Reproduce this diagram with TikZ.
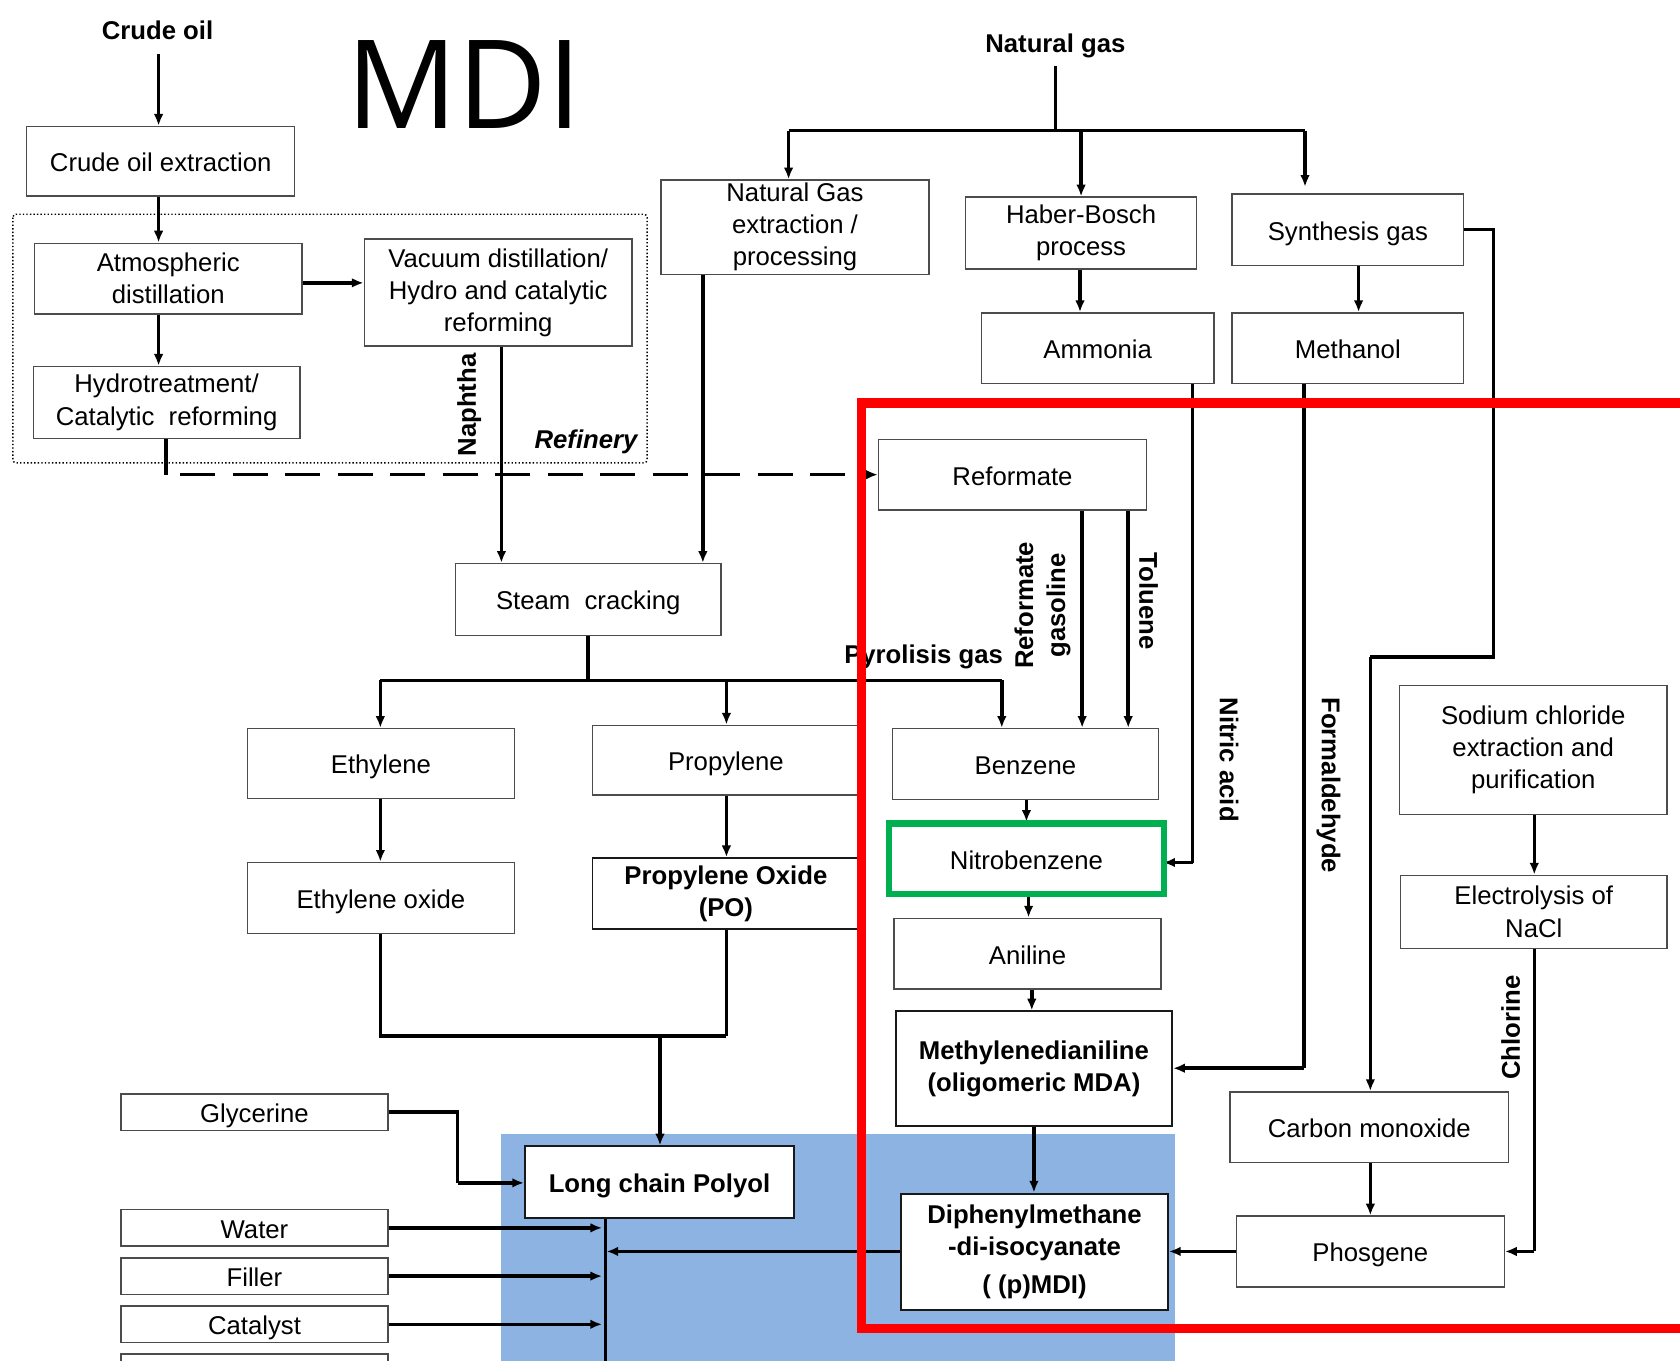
\documentclass[tikz,border=0pt]{standalone}
\usepackage{fontspec}
\setmainfont{Liberation Sans}
\newfontfamily\mdifont{Open Sans}
\usetikzlibrary{arrows.meta}
\definecolor{bluebg}{RGB}{141,179,226}
\definecolor{grn}{RGB}{0,176,80}
\begin{document}
\begin{tikzpicture}[x=1pt,y=-1pt,
  box/.style={draw=black!70, line width=1.3pt, fill=white, inner sep=0pt, align=center, font=\fontsize{24}{30}\selectfont},
  sl/.style={text height=19.5pt, text depth=0pt},
  bbox/.style={box, draw=black!90, line width=1.8pt, font=\fontsize{24}{30}\selectfont\bfseries},
  conn/.style={line width=3.3pt, -{Latex[length=11pt,width=9pt]}},
  wire/.style={line width=3.3pt},
  lab/.style={font=\fontsize{24}{30}\selectfont\bfseries, inner sep=0pt, align=center}
]
\useasboundingbox (0,0) rectangle (1568,1270);
\clip (0,0) rectangle (1568,1270);
\fill[white] (0,0) rectangle (1568,1270);

% blue background
\fill[bluebg] (468,1058) rectangle (1097,1275);

% refinery dotted frame
\draw[dotted, line width=1.3pt, rounded corners=3pt] (12,200) rectangle (604,432);

% title
\node[font=\mdifont\fontsize{115}{115}\selectfont, inner sep=0pt, anchor=base] (title) at (433,120) {MDI};

% labels
\node[lab] (crudeoil) at (147,28) {Crude oil};
\node[lab] (natgas) at (985,43) {Natural gas};
\node[lab, rotate=90] (naphtha) at (438,378) {Naphtha};
\node[lab, font=\fontsize{24}{30}\selectfont\bfseries\itshape] (refinery) at (547,412) {Refinery};
\node[lab] (pyro) at (862,613) {Pyrolisis gas};
\node[lab, rotate=90] (refgas) at (973,565) {Reformate\\gasoline};
\node[lab, rotate=-90] (toluene) at (1072,561) {Toluene};
\node[lab, rotate=-90] (nitric) at (1147,709) {Nitric acid};
\node[lab, rotate=-90] (formal) at (1240,733) {Formaldehyde};
\node[lab, rotate=90] (chlorine) at (1410,959) {Chlorine};

% boxes
\node[box, sl, minimum width=250pt, minimum height=65pt] (crudeext) at (150,150.5) {Crude oil extraction};
\node[box, minimum width=250pt, minimum height=66pt] (atmdist) at (157,260) {Atmospheric\\distillation};
\node[box, minimum width=250pt, minimum height=100pt] (vacuum) at (465,273) {Vacuum distillation/\\Hydro and catalytic\\reforming};
\node[box, minimum width=249pt, minimum height=67pt] (hydro) at (155.5,375.5) {Hydrotreatment/\\Catalytic\ \ reforming};
\node[box, minimum width=250pt, minimum height=88pt] (ngext) at (742,212) {Natural Gas\\extraction /\\processing};
\node[box, minimum width=216pt, minimum height=67pt] (haber) at (1009,217.5) {Haber-Bosch\\process};
\node[box, sl, minimum width=216pt, minimum height=67pt] (syngas) at (1258,214.5) {Synthesis gas};
\node[box, sl, minimum width=217pt, minimum height=66pt] (ammonia) at (1024.5,325) {Ammonia};
\node[box, sl, minimum width=216pt, minimum height=66pt] (methanol) at (1258,325) {Methanol};
\node[box, sl, minimum width=250pt, minimum height=66pt] (reformate) at (945,443) {Reformate};
\node[box, sl, minimum width=248pt, minimum height=67pt] (steam) at (549,559.5) {Steam\ \ cracking};
\node[box, sl, minimum width=249pt, minimum height=65pt] (ethylene) at (355.5,712.5) {Ethylene};
\node[box, sl, minimum width=249pt, minimum height=65pt] (propylene) at (677.5,709.5) {Propylene};
\node[box, sl, minimum width=248pt, minimum height=66pt] (benzene) at (957,713) {Benzene};
\node[box, sl, minimum width=249pt, minimum height=66pt] (aniline) at (959,890) {Aniline};
\node[bbox, minimum width=258pt, minimum height=107pt] (mda) at (965,997.5) {Methylenedianiline\\(oligomeric MDA)};
\node[box, sl, minimum width=249pt, minimum height=66pt] (ethox) at (355.5,838) {Ethylene oxide};
\node[bbox, minimum width=249pt, minimum height=66pt] (po) at (677.5,834) {Propylene Oxide\\(PO)};
\node[box, minimum width=250pt, minimum height=120pt] (nacl) at (1431,700) {Sodium chloride\\extraction and\\purification};
\node[box, minimum width=249pt, minimum height=68pt] (electro) at (1431.5,851) {Electrolysis of\\NaCl};
\node[box, sl, minimum width=260pt, minimum height=66pt] (co) at (1278,1052) {Carbon monoxide};
\node[box, sl, minimum width=250pt, minimum height=66pt] (phosgene) at (1279,1168) {Phosgene};
\node[bbox, minimum width=249pt, minimum height=109pt] (mdi) at (965.5,1168.5) {Diphenylmethane\\-di-isocyanate\\[5pt]( (p)MDI)};
\node[bbox, sl, minimum width=251pt, minimum height=67pt] (polyol) at (615.5,1103.5) {Long chain Polyol};
\node[box, sl, minimum width=249pt, minimum height=34pt] (glycerine) at (237.5,1038) {Glycerine};
\node[box, sl, minimum width=249pt, minimum height=34pt] (water) at (237.5,1146) {Water};
\node[box, sl, minimum width=249pt, minimum height=34pt] (filler) at (237.5,1191) {Filler};
\node[box, sl, minimum width=249pt, minimum height=34pt] (catalyst) at (237.5,1236) {Catalyst};
\node[box, minimum width=249pt, minimum height=34pt, anchor=north] (partial) at (237.5,1263) {};

% coordinates for bends
\coordinate (crudetip) at (148,50);
\coordinate (hd) at (155,443);
\coordinate (dashstart) at (168,443);
\coordinate (ngtop) at (985,62);
\coordinate (ngbusL) at (736,122);
\coordinate (ngbusR) at (1218,122);
\coordinate (ngbusM) at (1009,122);
\coordinate (sc) at (549,635);
\coordinate (scL) at (355,635);
\coordinate (scR) at (935,635);
\coordinate (scM) at (678,635);
\coordinate (sg1) at (1394,214);
\coordinate (sg2) at (1394,613);
\coordinate (sg3) at (1279,613);
\coordinate (am1) at (1113,805);
\coordinate (me1) at (1217,997);
\coordinate (el1) at (1432,1168);
\coordinate (ej) at (355,967);
\coordinate (pj) at (678,967);
\coordinate (pm) at (616,967);
\coordinate (gl1) at (427,1038);
\coordinate (gl2) at (427,1104);
\coordinate (bus) at (565,1168);
\coordinate (busbot) at (565,1275);

% connectors
\draw[conn] (crudetip) -- (crudeext.north -| crudetip);
\draw[conn] (crudeext.south -| crudetip) -- (atmdist.north -| crudetip);
\draw[conn] (atmdist.east |- 0,264) -- (vacuum.west |- 0,264);
\draw[conn] (atmdist.south -| crudetip) -- (hydro.north -| crudetip);
\draw[wire] (hydro.south -| hd) -- (hd);
\draw[line width=3.3pt, dash pattern=on 33pt off 16pt, -{Latex[length=11pt,width=9pt]}] (dashstart) -- (reformate.west);
\draw[conn] (vacuum.south -| 468,0) -- (steam.north -| 468,0);
\draw[conn] (ngext.south -| 656,0) -- (steam.north -| 656,0);
\draw[wire] (ngtop) -- (985,122);
\draw[wire] (ngbusL) -- (ngbusR);
\draw[conn] (ngbusL) -- (ngext.north -| ngbusL);
\draw[conn] (ngbusM) -- (haber.north -| ngbusM);
\draw[conn] (ngbusR) -- ([yshift=6pt]syngas.north -| ngbusR);
\draw[conn] (haber.south -| 1008,0) -- (ammonia.north -| 1008,0);
\draw[conn] (syngas.south -| 1268,0) -- (methanol.north -| 1268,0);
\draw[wire] (syngas.east |- sg1) -- (sg1) -- (sg2) -- (sg3);
\draw[conn] (sg3) -- (co.north -| sg3);
\draw[wire] (ammonia.south -| am1) -- (am1);
\draw[conn] (am1) -- ([xshift=4pt]benzene.east |- am1);
\draw[wire] (methanol.south -| me1) -- (me1);
\draw[conn] (me1) -- (mda.east |- me1);
\draw[conn] (reformate.south -| 1010,0) -- (benzene.north -| 1010,0);
\draw[conn] (reformate.south -| 1053,0) -- (benzene.north -| 1053,0);
\draw[wire] (steam.south -| sc) -- (sc);
\draw[wire] (scL) -- (scR);
\draw[conn] (scL) -- (ethylene.north -| scL);
\draw[conn] (scM) -- (propylene.north -| scM);
\draw[conn] (scR) -- (benzene.north -| scR);
\draw[conn] (ethylene.south -| scL) -- (ethox.north -| scL);
\draw[conn] (propylene.south -| scM) -- (po.north -| scM);
\draw[wire] (ethox.south -| ej) -- (ej) -- (pj);
\draw[wire] (po.south -| pj) -- (pj);
\draw[conn] (pm) -- (polyol.north -| pm);
\draw[conn] (benzene.south -| 958,0) -- (958,767);
\draw[conn] (960,837) -- (aniline.north -| 960,0);
\draw[conn] (aniline.south -| 963,0) -- (mda.north -| 963,0);
\draw[conn] (mda.south) -- (mdi.north -| mda.south);
\draw[conn] (nacl.south -| 1432,0) -- (electro.north -| 1432,0);
\draw[wire] (electro.south -| el1) -- (el1);
\draw[conn] (el1) -- (phosgene.east |- el1);
\draw[conn] (co.south -| phosgene.north) -- (phosgene.north);
\draw[conn] (phosgene.west) -- (mdi.east |- phosgene.west);
\draw[wire] (polyol.south -| bus) -- (busbot);
\draw[conn] (mdi.west |- bus) -- ([xshift=1pt]bus);
\draw[wire] (glycerine.east) -- (gl1) -- (gl2);
\draw[conn] (gl2) -- (polyol.west |- gl2);
\draw[conn] (water.east) -- ([xshift=-3pt]bus |- water.east);
\draw[conn] (filler.east) -- ([xshift=-3pt]bus |- filler.east);
\draw[conn] (catalyst.east) -- ([xshift=-3pt]bus |- catalyst.east);

% nitrobenzene with green frame
\node[box, sl, draw=grn, line width=6pt, minimum width=257pt, minimum height=66pt] (nitro) at (958,801.5) {Nitrobenzene};

% red frame
\draw[red, line width=9pt] (1600,376) -- (804,376) -- (804,1240) -- (1600,1240);
\end{tikzpicture}
\end{document}
